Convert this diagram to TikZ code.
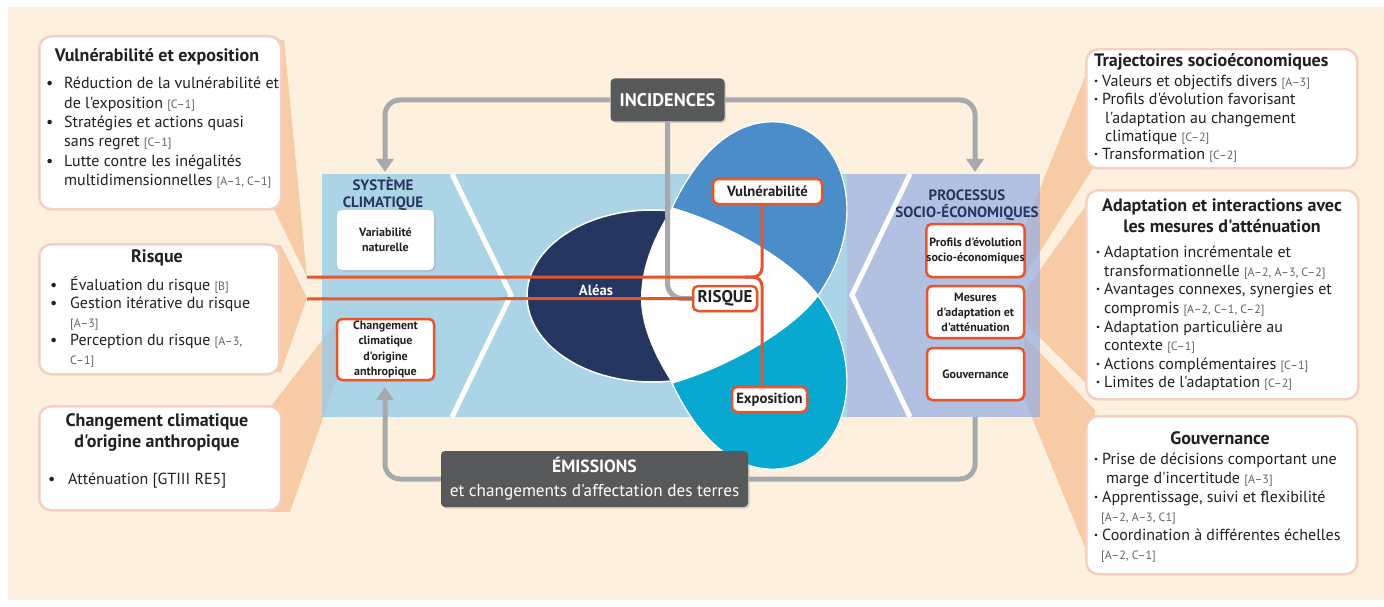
\documentclass[tikz,border=0pt]{standalone}
\usepackage{fontspec}
\setmainfont{PT Sans}[Ligatures=TeXOff]
\usetikzlibrary{shadows,arrows.meta}
\definecolor{cream}{HTML}{FDF0DE}
\definecolor{salmon}{HTML}{F8CBA7}
\definecolor{pinkbd}{HTML}{F5D0C2}
\definecolor{lblue}{HTML}{8BC9EC}
\definecolor{lilac}{HTML}{93AEE5}
\definecolor{navy}{HTML}{253660}
\definecolor{vblue}{HTML}{4A8DC8}
\definecolor{cyanE}{HTML}{08A8D1}
\definecolor{orng}{HTML}{E8552A}
\definecolor{dgray}{HTML}{58595B}
\definecolor{lgray}{HTML}{A7A9AC}
\definecolor{refgray}{HTML}{626366}
\definecolor{txt}{HTML}{231F20}
\newcommand\fs[2]{\fontsize{#1}{#2}\selectfont}
\newcommand\rf[1]{{\fs{12}{12}\color{refgray}[#1]}}
\newcommand\rfs{\fs{12}{12}\color{refgray}}
\newcommand\bul{\makebox[18pt][l]{•}}
\newcommand\bulr{\makebox[20pt][l]{•}}
\newcommand\dt{\makebox[8pt][l]{\textbf{·}}}
\begin{document}
\begin{tikzpicture}[x=1pt,y=-1pt,
  infobox/.style={draw=pinkbd, line width=2.5pt, fill=white, rounded corners=12pt, inner sep=0pt, anchor=north west},
  obox/.style={draw=orng, line width=2.5pt, fill=white, rounded corners=5pt, inner sep=0pt, text=txt, align=center,
     drop shadow={shadow xshift=1.5pt,shadow yshift=-1.5pt,opacity=.25}},
  wbox/.style={fill=white, rounded corners=5pt, inner sep=0pt, text=txt, align=center,
     drop shadow={shadow xshift=1.5pt,shadow yshift=-1.5pt,opacity=.25}},
  gbox/.style={fill=dgray, rounded corners=4pt, inner sep=0pt, text=white, align=center,
     drop shadow={shadow xshift=1.5pt,shadow yshift=-1.5pt,opacity=.3}},
  gline/.style={draw=lgray, line width=5pt, rounded corners=15pt},
  gtip/.style={-{Triangle[length=13pt,width=17pt]}},
  oline/.style={draw=orng, line width=3pt},
  body/.style={align=left, inner sep=0pt, text=txt, anchor=north west},
  ttl/.style={align=center, inner sep=0pt, text=txt, font=\bfseries\fs{18}{21}},
  ptitle/.style={align=center, inner sep=0pt, text=navy, font=\bfseries\fs{15}{17}},
  wedge/.style={fill=salmon}
]
\useasboundingbox (0,0) rectangle (1384,607);
\fill[white] (0,0) rectangle (1384,607);
\fill[cream] (8,7) rectangle (1384,600);

% wedges (callouts)
\fill[wedge] (268,40) -- (284,40) -- (307,277) -- (272,205) -- cycle;
\fill[wedge] (268,245) -- (281,245) -- (307,298) -- (281,372) -- (268,372) -- cycle;
\fill[wedge] (268,410) -- (337,321) -- (337,378) -- (290,512) -- (268,512) -- cycle;
\fill[wedge] (1024,228) -- (1095,52) -- (1095,165) -- (1024,277) -- cycle;
\fill[wedge] (1024,292) -- (1095,193) -- (1095,392) -- (1024,322) -- cycle;
\fill[wedge] (1024,336) -- (1095,410) -- (1095,572) -- (1024,398) -- cycle;

% panels
\fill[lblue, opacity=0.7] (322,174) rectangle (847,417);
\fill[lilac, opacity=0.7] (847,174) rectangle (1040,417);
\draw[white, line width=5pt, line join=miter] (452,174) -- (511,295) -- (452,417);
\draw[white, line width=5pt, line join=miter] (910,174) -- (852,295) -- (910,417);

% ellipses
\path[fill=navy, draw=white, line width=1.5pt] (652,296) ellipse [x radius=125pt, y radius=86pt];
\path[fill=vblue, draw=white, line width=1.2pt] (672,208) .. controls (698,152) and (735,119) .. (778,122)
  .. controls (828,126) and (852,175) .. (846,225) .. controls (842,256) and (830,278) .. (818,295.5)
  .. controls (790,258) and (722,222) .. (672,208) -- cycle;
\path[fill=cyanE, draw=white, line width=1.2pt] (672,383) .. controls (698,439) and (735,472) .. (778,469)
  .. controls (828,465) and (852,416) .. (846,366) .. controls (842,335) and (830,313) .. (818,295.5)
  .. controls (790,333) and (722,369) .. (672,383) -- cycle;
\path[fill=white] (672,208) .. controls (722,222) and (790,258) .. (818,295.5)
  .. controls (790,333) and (722,369) .. (672,383)
  .. controls (652,352) and (640,322) .. (641,295) .. controls (642,265) and (654,236) .. (672,208) -- cycle;

% info boxes left
\node[infobox, minimum width=242, minimum height=173] (vbox) at (38,35) {};
\node[ttl] (vttl) at (157,57) {Vulnérabilité et exposition};
\node[body, font=\fs{16}{19.4}] (vlist) at (46,77) {%
\bul Réduction de la vulnérabilité et\\
\hspace*{18pt}de l'exposition \rf{C–1}\\
\bul Stratégies et actions quasi\\
\hspace*{18pt}sans regret \rf{C–1}\\
\bul Lutte contre les inégalités\\
\hspace*{18pt}multidimensionnelles \rf{A–1, C–1}};

\node[infobox, minimum width=240, minimum height=130] (rbox) at (38,243) {};
\node[ttl] (rttl) at (157,258) {Risque};
\node[body, font=\fs{16}{18.5}] (rlist) at (50,276) {%
\bulr Évaluation du risque \rf{B}\\
\bulr Gestion itérative du risque\\
\hspace*{20pt}\rf{A–3}\\
\bulr Perception du risque {\rfs [A–3,}\\
\hspace*{20pt}{\rfs C–1]}};

\node[infobox, minimum width=242, minimum height=104] (cbox) at (38,405) {};
\node[ttl] (cttl) at (157,432) {Changement climatique\\d'origine anthropique};
\node[body, font=\fs{16}{18.5}] (clist) at (48,473) {\bulr Atténuation [GTIII RE5]};

% info boxes right
\node[infobox, minimum width=271, minimum height=119] (tbox) at (1085,48) {};
\node[ttl, anchor=west] (tttl) at (1094,62) {Trajectoires socioéconomiques};
\node[body, font=\fs{16}{18.3}] (tlist) at (1094,75) {%
\dt Valeurs et objectifs divers \rf{A–3}\\
\dt Profils d'évolution favorisant\\
\hspace*{11pt}l'adaptation au changement\\
\hspace*{11pt}climatique \rf{C–2}\\
\dt Transformation \rf{C–2}};

\node[infobox, minimum width=272, minimum height=209] (abox) at (1085,189) {};
\node[ttl] (attl) at (1222,216) {Adaptation et interactions avec\\les mesures d'atténuation};
\node[body, font=\fs{16}{18.6}] (alist) at (1096,246) {%
\dt Adaptation incrémentale et\\
\hspace*{8pt}transformationnelle \rf{A–2, A–3, C–2}\\
\dt Avantages connexes, synergies et\\
\hspace*{8pt}compromis \rf{A–2, C–1, C–2}\\
\dt Adaptation particulière au\\
\hspace*{8pt}contexte \rf{C–1}\\
\dt Actions complémentaires \rf{C–1}\\
\dt Limites de l'adaptation \rf{C–2}};

\node[infobox, minimum width=271, minimum height=158] (gbox) at (1085,415) {};
\node[ttl] (gttl) at (1220,438) {Gouvernance};
\node[body, font=\fs{16}{19}] (glist) at (1094,453) {%
\dt Prise de décisions comportant une\\
\hspace*{12pt}marge d'incertitude \rf{A–3}\\
\dt Apprentissage, suivi et flexibilité\\
\hspace*{7pt}\rf{A–2, A–3, C1}\\
\dt Coordination à différentes échelles\\
\hspace*{7pt}\rf{A–2, C–1}};

% panel titles and boxes
\node[ptitle] (systtl) at (383,194) {SYSTÈME\\CLIMATIQUE};
\node[ptitle] (proctl) at (967,205) {PROCESSUS\\SOCIO-ÉCONOMIQUES};
\node[wbox, minimum width=97, minimum height=60, font=\bfseries\fs{12}{15.5}] (var) at (385.5,240) {Variabilité\\naturelle};
\node[obox, minimum width=97, minimum height=61, font=\bfseries\fs{12}{15.3}] (chg) at (385.5,349.5) {Changement\\climatique\\d'origine\\anthropique};
\node[obox, minimum width=97, minimum height=53, font=\bfseries\fs{12}{15}] (prof) at (975.5,250.5) {Profils d'évolution\\socio-économiques};
\node[obox, minimum width=97, minimum height=52, font=\bfseries\fs{12}{15}] (mes) at (975.5,312) {Mesures\\d'adaptation et\\d'atténuation};
\node[obox, minimum width=97, minimum height=52, font=\bfseries\fs{12}{15}] (gouv) at (975.5,374) {Gouvernance};

\node[text=white, font=\bfseries\fs{14.7}{15}, inner sep=0pt] (aleas) at (596,290) {Aléas};
\node[obox, minimum width=64, minimum height=25, font=\bfseries\fs{17}{18}] (risk) at (725,298.5) {RISQUE};
\node[obox, minimum width=109, minimum height=25, font=\bfseries\fs{14.7}{15}] (vul) at (767.5,191.5) {Vulnérabilité};
\node[obox, minimum width=75, minimum height=25, font=\bfseries\fs{14.7}{15}] (exp) at (769.5,399.5) {Exposition};

\node[gbox, minimum width=114, minimum height=43, font=\bfseries\fs{18.3}{19}] (inc) at (667.5,100) {INCIDENCES};
\node[gbox, minimum width=307, minimum height=56, font=\fs{17.2}{24}] (emi) at (594.5,479) {{\bfseries\fs{17.6}{24}ÉMISSIONS}\\et changements d'affectation des terres};

% connectors
\coordinate (sysin) at (385,172);
\coordinate (socin) at (975,172);
\coordinate (socout) at (975,417);
\coordinate (chgin) at (385,387);
\coordinate (vtip) at (307,277);
\coordinate (rtip) at (307,299);
\coordinate (brk) at (762,277);
\coordinate (brk2) at (745,277);

\draw[gline, gtip] (inc.west) -| (sysin);
\draw[gline, gtip] (inc.east) -| (socin);
\draw[gline] (inc.south) |- (risk.west);
\draw[gline] (socout) |- (emi.east);
\draw[gline, gtip] (emi.west) -| (chgin);

\draw[oline, rounded corners=9pt] (vtip) -| (vul.south -| brk);
\draw[oline, rounded corners=9pt] (brk2) -| (exp.north -| brk);
\draw[oline] (rtip) -- (risk.west);
\end{tikzpicture}
\end{document}
